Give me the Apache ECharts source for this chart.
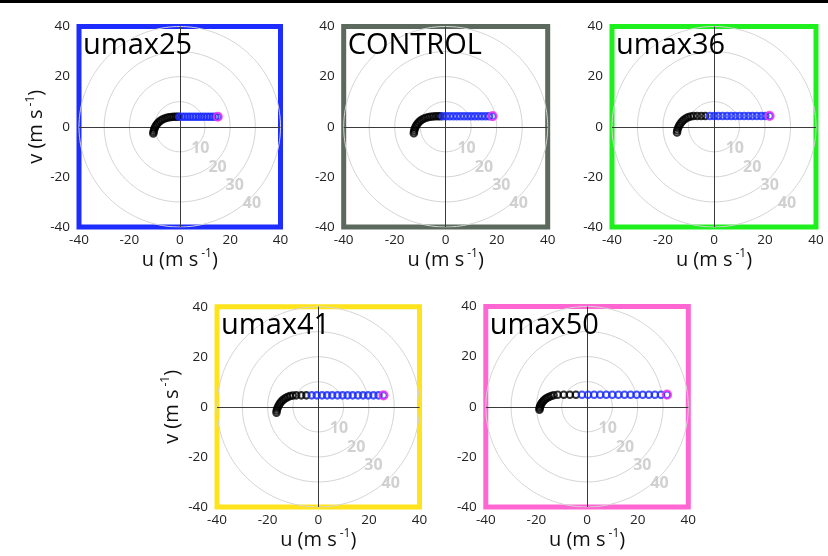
<!DOCTYPE html>
<html><head><meta charset="utf-8">
<script src="https://cdn.jsdelivr.net/npm/echarts@6/dist/echarts.min.js"></script>
<style>html,body{margin:0;padding:0;background:#fff}#c{width:828px;height:556px}</style>
</head><body><div id="c"></div>
<script>
// ---------- data ----------
const panelTitles = ['umax25', 'CONTROL', 'umax36', 'umax41', 'umax50'];
const tickValues = [-40, -20, 0, 20, 40];
const ringRadii = [10, 20, 30, 40];
const ringLabels = ['10', '20', '30', '40'];

// umax25
const blackU_umax25 = [-10.5,-10.4,-10.2,-9.9,-9.5,-9.0,-8.4,-7.7,-6.9,-6.0,-5.1,-4.2,-3.3,-2.4,-1.5,-0.7];
const blackV_umax25 = [-2.7,-2.0,-1.2,-0.4,0.4,1.1,1.8,2.4,2.9,3.3,3.6,3.8,3.9,4.0,4.0,4.0];
const blueU_umax25  = [-0.2,0.9,2.0,3.1,4.2,5.3,6.4,7.5,8.6,9.7,10.8,11.9,13.0,14.1,15.1];
const blueV_umax25  = [4.0,4.0,4.0,4.0,4.0,4.0,4.0,4.0,4.0,4.0,4.0,4.0,4.0,4.0,4.0];
const top_umax25    = [15.1, 4.0];

// CONTROL
const blackU_control = [-12.5,-12.4,-12.2,-11.9,-11.5,-11.0,-10.4,-9.7,-8.9,-8.0,-7.0,-6.0,-5.0,-4.0,-3.0,-2.1];
const blackV_control = [-2.6,-1.8,-1.0,-0.2,0.6,1.3,2.0,2.6,3.1,3.5,3.8,4.0,4.1,4.2,4.2,4.2];
const blueU_control  = [-1.2,0.2,1.6,3.0,4.4,5.8,7.2,8.6,10.0,11.4,12.8,14.2,15.6,17.0,18.4];
const blueV_control  = [4.2,4.2,4.2,4.2,4.2,4.2,4.2,4.2,4.2,4.2,4.2,4.2,4.2,4.2,4.2];
const top_control    = [18.4, 4.2];

// umax36
const blackU_umax36 = [-14.5,-14.4,-14.1,-13.7,-13.2,-12.6,-11.9,-11.1,-10.2,-9.2,-8.1,-6.6,-5.0,-3.4];
const blackV_umax36 = [-2.3,-1.4,-0.5,0.4,1.2,2.0,2.7,3.3,3.8,4.1,4.3,4.3,4.3,4.3];
const blueU_umax36  = [-1.6,0.1,1.7,3.4,5.1,6.8,8.4,10.1,11.8,13.5,15.1,16.8,18.5,20.1,21.8];
const blueV_umax36  = [4.3,4.3,4.3,4.3,4.3,4.3,4.3,4.3,4.3,4.3,4.3,4.3,4.3,4.3,4.3];
const top_umax36    = [21.8, 4.3];

// umax41
const blackU_umax41 = [-16.5,-16.4,-16.1,-15.7,-15.2,-14.6,-13.9,-13.1,-12.2,-11.2,-10.1,-8.7,-6.7,-4.7];
const blackV_umax41 = [-2.3,-1.4,-0.5,0.4,1.3,2.1,2.8,3.4,3.9,4.3,4.5,4.6,4.6,4.6];
const blueU_umax41  = [-2.6,-0.6,1.5,3.5,5.5,7.6,9.6,11.6,13.6,15.7,17.7,19.7,21.8,23.8,25.8];
const blueV_umax41  = [4.6,4.6,4.6,4.6,4.6,4.6,4.6,4.6,4.6,4.6,4.6,4.6,4.6,4.6,4.6];
const top_umax41    = [25.8, 4.6];

// umax50
const blackU_umax50 = [-18.8,-18.75,-18.6,-18.4,-18.1,-17.7,-17.2,-16.6,-15.9,-15.1,-14.2,-13.2,-11.6,-9.2,-6.8,-4.4];
const blackV_umax50 = [-1.2,-0.6,0.0,0.6,1.2,1.8,2.4,3.0,3.5,3.9,4.3,4.6,4.8,4.8,4.8,4.8];
const blueU_umax50  = [-2.0,0.4,2.8,5.2,7.6,10.0,12.4,14.8,17.2,19.6,22.0,24.4,26.8,29.2,31.6];
const blueV_umax50  = [4.8,4.8,4.8,4.8,4.8,4.8,4.8,4.8,4.8,4.8,4.8,4.8,4.8,4.8,4.8];
const top_umax50    = [31.6, 4.8];

// ---------- layout / style ----------
const FONT = "'Open Sans', 'DejaVu Sans', sans-serif";
const panelData = [
  [blackU_umax25, blackV_umax25, blueU_umax25, blueV_umax25, top_umax25],
  [blackU_control, blackV_control, blueU_control, blueV_control, top_control],
  [blackU_umax36, blackV_umax36, blueU_umax36, blueV_umax36, top_umax36],
  [blackU_umax41, blackV_umax41, blueU_umax41, blueV_umax41, top_umax41],
  [blackU_umax50, blackV_umax50, blueU_umax50, blueV_umax50, top_umax50]
];
const layouts = [
  {left: 79,    top: 26.5,  w: 201.5, h: 200.5, border: '#1e2dff', yName: true, yGap: 30},
  {left: 343.7, top: 26.5,  w: 204,   h: 200.5, border: '#5b6a5c', yName: false},
  {left: 612,   top: 26.5,  w: 204,   h: 200.5, border: '#1ef01e', yName: false},
  {left: 217,   top: 306.7, w: 202.5, h: 200.3, border: '#ffe31c', yName: true, yGap: 33},
  {left: 485.8, top: 306.5, w: 202.5, h: 200.5, border: '#ff66d2', yName: false}
];
const BLUE = '#1628ff';
const PINK = '#ff33ee';
const RING = '#d4d4d4';

function zip(a, b) { return a.map((x, i) => [x, b[i]]); }
function circlePts(r) {
  const pts = [];
  for (let d = 0; d <= 360; d += 2) {
    const t = d * Math.PI / 180;
    pts.push([r * Math.cos(t), r * Math.sin(t)]);
  }
  return pts;
}

const nameRich = {
  a: {fontSize: 20, fontFamily: FONT, color: '#111', lineHeight: 24},
  b: {fontSize: 12, fontFamily: FONT, color: '#111', verticalAlign: 'top', lineHeight: 24, padding: [0, 0, 0, 3]}
};

const grid = [], xAxis = [], yAxis = [], series = [], title = [];
layouts.forEach((L, i) => {
  grid.push({left: L.left, top: L.top, width: L.w, height: L.h, show: true,
    borderColor: L.border, borderWidth: 5, backgroundColor: 'rgba(0,0,0,0)', outerBoundsMode: 'none', containLabel: false});
  xAxis.push({type: 'value', gridIndex: i, min: tickValues[0], max: tickValues[tickValues.length - 1], interval: 20,
    axisLine: {show: false}, axisTick: {show: false}, splitLine: {show: false},
    axisLabel: {fontSize: 13.5, color: '#222', margin: 6, fontFamily: FONT, showMinLabel: true, showMaxLabel: true},
    name: '{a|u (m s}{b|-1}{a|)}', nameLocation: 'middle', nameGap: 15,
    nameTextStyle: {rich: nameRich}});
  yAxis.push({type: 'value', gridIndex: i, min: tickValues[0], max: tickValues[tickValues.length - 1], interval: 20,
    axisLine: {show: false}, axisTick: {show: false}, splitLine: {show: false},
    axisLabel: {fontSize: 13.5, color: '#222', margin: 9, fontFamily: FONT, showMinLabel: true, showMaxLabel: true},
    name: L.yName ? '{a|v (m s}{b|-1}{a|)}' : '', nameLocation: 'middle', nameGap: L.yGap || 30, nameRotate: 90,
    nameTextStyle: {rich: nameRich}});
  title.push({text: panelTitles[i], left: L.left + 4, top: L.top + 5, padding: 0,
    textStyle: {fontSize: 29, fontWeight: 'normal', color: '#000', fontFamily: FONT}});

  // rings
  ringRadii.forEach((r, k) => {
    const s = {type: 'line', xAxisIndex: i, yAxisIndex: i, data: circlePts(r), showSymbol: false, symbol: 'none',
      lineStyle: {color: RING, width: 1}, silent: true, z: 1, animation: false};
    if (k === 0) {
      s.markLine = {symbol: 'none', silent: true, animation: false, label: {show: false},
        lineStyle: {color: '#3a3a3a', width: 1, type: 'solid'},
        data: [{xAxis: 0}, {yAxis: 0}]};
    }
    series.push(s);
  });
  // ring labels
  series.push({type: 'scatter', xAxisIndex: i, yAxisIndex: i, symbolSize: 0, silent: true, z: 2, animation: false,
    data: ringRadii.map((r, k) => ({value: [(r + 2) * Math.cos(47 * Math.PI / 180), -(r + 2) * Math.sin(47 * Math.PI / 180)], name: ringLabels[k]})),
    label: {show: true, position: 'inside', formatter: p => p.name, color: '#c6c6c6', fontSize: 16, fontWeight: 'bold', fontFamily: FONT}});

  const [bu, bv, lu, lv, tp] = panelData[i];
  series.push({type: 'scatter', xAxisIndex: i, yAxisIndex: i, data: zip(bu, bv), symbol: 'circle', symbolSize: 6.5,
    itemStyle: {color: 'rgba(0,0,0,0)', borderColor: '#000', borderWidth: 2.1}, z: 5, animation: false, silent: true});
  series.push({type: 'scatter', xAxisIndex: i, yAxisIndex: i, data: zip(lu, lv), symbol: 'circle', symbolSize: 6.5,
    itemStyle: {color: 'rgba(0,0,0,0)', borderColor: BLUE, borderWidth: 2.1}, z: 6, animation: false, silent: true});
  series.push({type: 'scatter', xAxisIndex: i, yAxisIndex: i, data: [tp], symbol: 'circle', symbolSize: 8,
    itemStyle: {color: 'rgba(0,0,0,0)', borderColor: PINK, borderWidth: 2.2}, z: 7, animation: false, silent: true});
});

const chart = echarts.init(document.getElementById('c'), null, {renderer: 'canvas'});
chart.setOption({
  animation: false,
  backgroundColor: '#fff',
  textStyle: {fontFamily: FONT},
  title, grid, xAxis, yAxis, series,
  graphic: [{type: 'rect', left: 0, top: 0, shape: {width: 828, height: 3}, style: {fill: '#000'}, silent: true}]
});
</script></body></html>
